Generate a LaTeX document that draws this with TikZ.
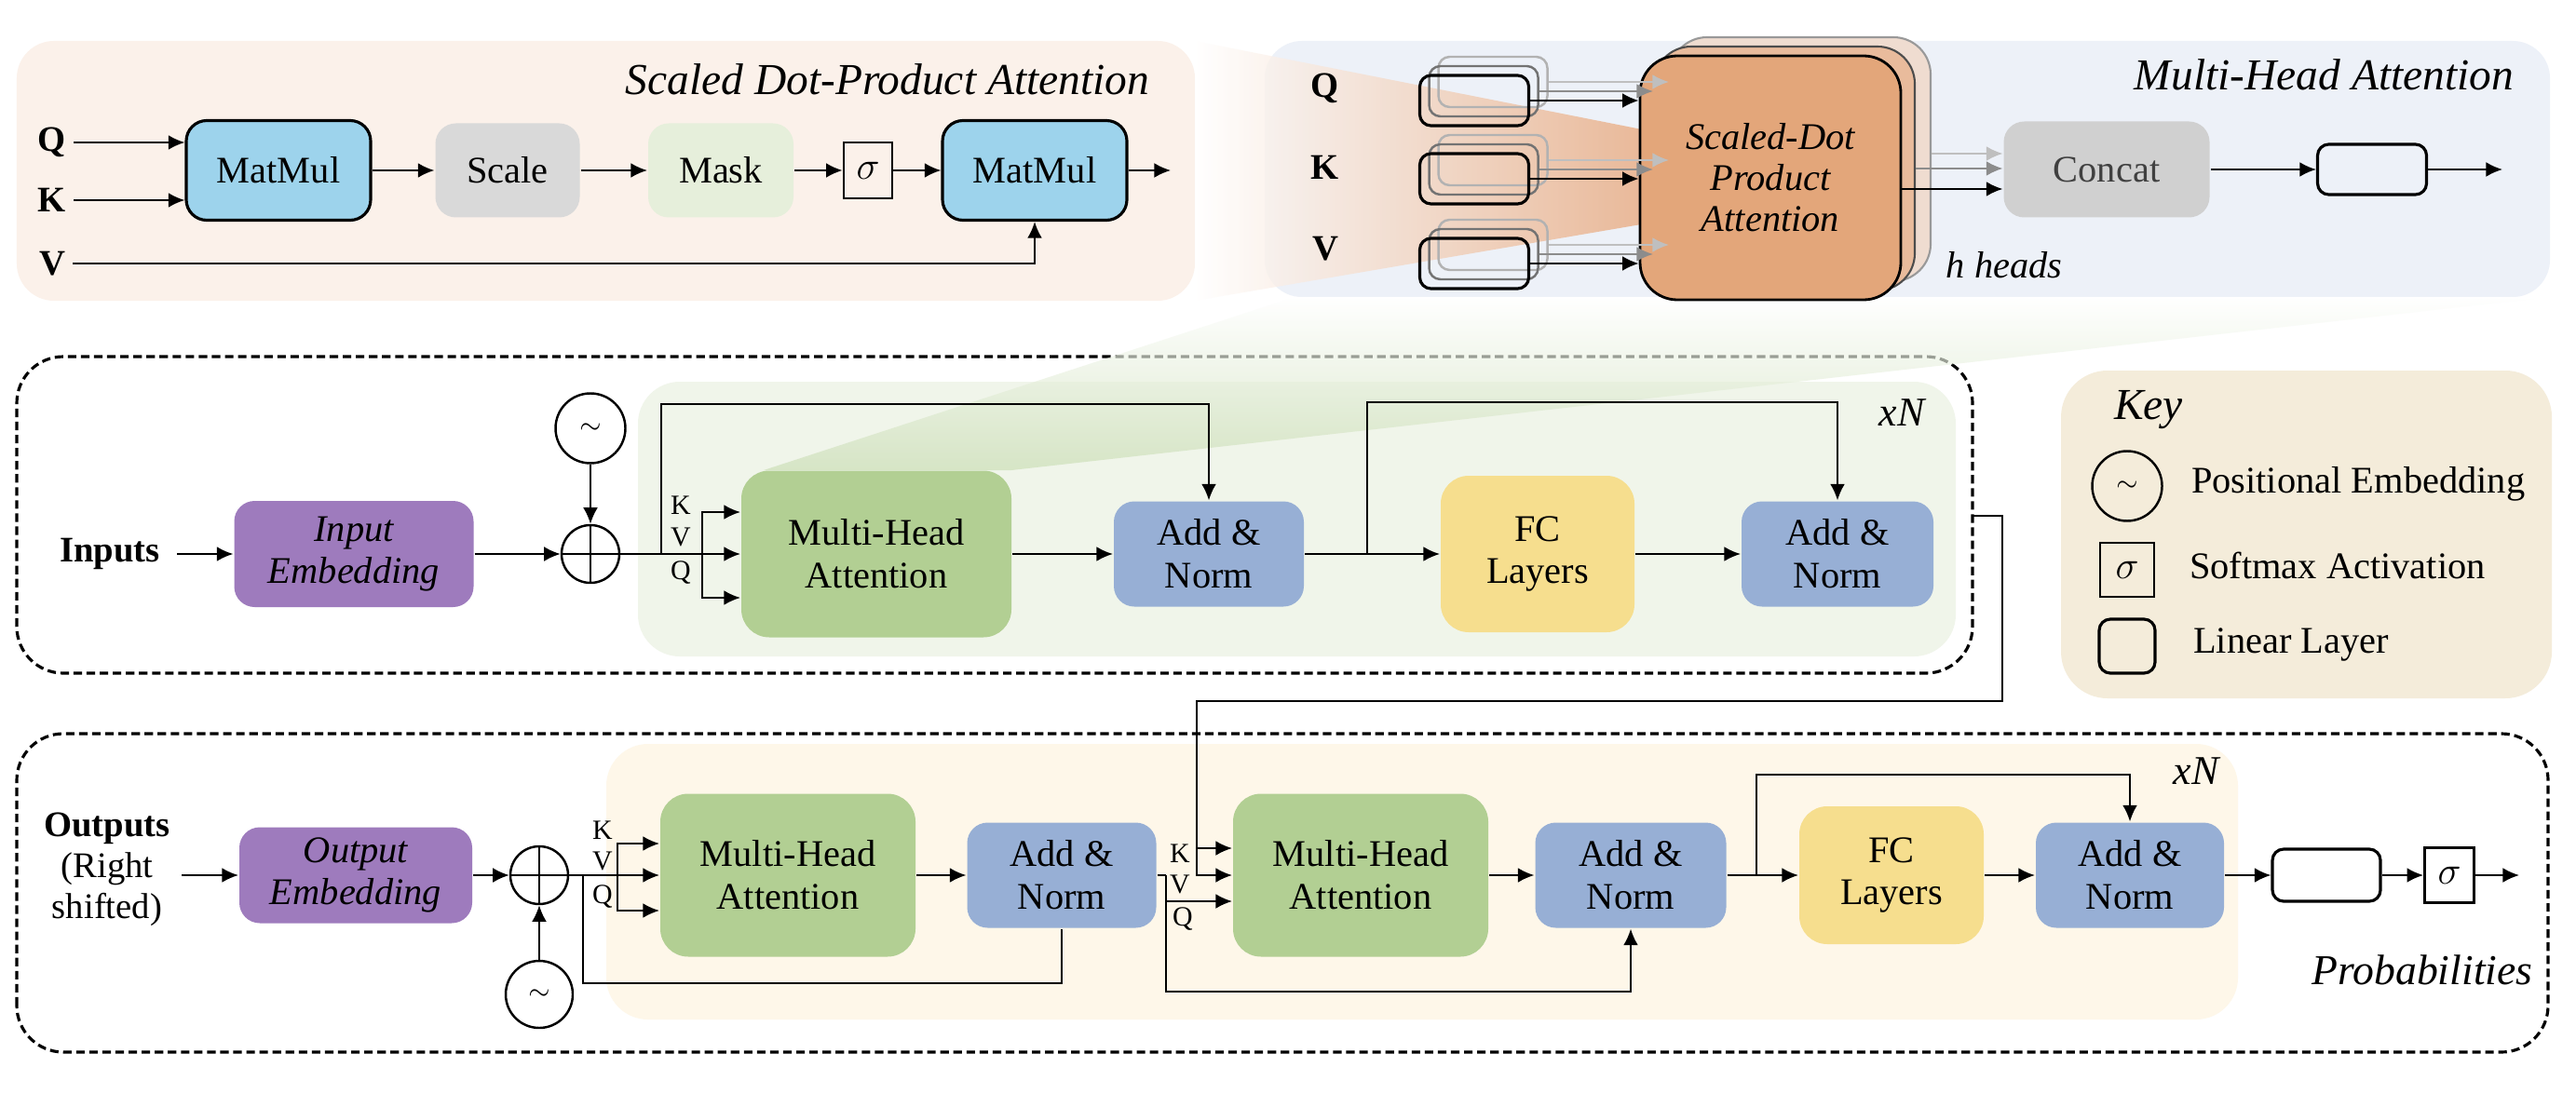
\documentclass[tikz,border=0pt]{standalone}
\usepackage{fontspec}
\setmainfont{Liberation Serif}
\usetikzlibrary{arrows.meta}

\definecolor{peachbg}{HTML}{FBF1EA}
\definecolor{bluebg}{HTML}{EDF1F8}
\definecolor{matblue}{HTML}{9DD3EC}
\definecolor{scalegray}{HTML}{D9D9D9}
\definecolor{maskgreen}{HTML}{E6EFDB}
\definecolor{sdfront}{HTML}{E3A67A}
\definecolor{sdmid}{HTML}{E9BB9C}
\definecolor{sdback}{HTML}{EFDCD0}
\definecolor{concatgray}{HTML}{D0D0D0}
\definecolor{greenbg}{HTML}{F0F5EA}
\definecolor{mhagreen}{HTML}{B2CF93}
\definecolor{anblue}{HTML}{97AFD5}
\definecolor{fcyellow}{HTML}{F6DE8E}
\definecolor{embpurple}{HTML}{9E7BBD}
\definecolor{keybg}{HTML}{F4ECDA}
\definecolor{yellowbg}{HTML}{FEF7E9}
\definecolor{wedgeorange}{HTML}{E8A679}
\definecolor{wedgegreen}{HTML}{C9DDB3}

\tikzset{
	block/.style={rounded corners=0.22cm, inner sep=0pt, align=center, font=\fontsize{11.5}{13}\selectfont},
	lin/.style={draw, rounded corners=0.12cm, line width=0.9pt, minimum width=1.17cm, minimum height=0.54cm, inner sep=0pt},
	sig/.style={draw, line width=0.8pt, minimum width=0.52cm, minimum height=0.60cm, inner sep=0pt, font=\fontsize{11.5}{13}\selectfont},
	wave/.style={draw, circle, line width=0.7pt, minimum size=0.75cm, inner sep=0pt, font=\fontsize{8}{9}\selectfont},
	addcirc/.style={draw, circle, line width=0.7pt, minimum size=0.62cm, inner sep=0pt},
	qkv/.style={font=\fontsize{11}{13}\selectfont\bfseries, inner sep=2pt},
	kvq/.style={font=\fontsize{8.5}{10}\selectfont, inner sep=0pt},
	headline/.style={font=\fontsize{13.5}{15}\selectfont\itshape, inner sep=0pt},
	itlabel/.style={font=\fontsize{12.5}{14}\selectfont\itshape, inner sep=0pt},
	keytext/.style={font=\fontsize{11.5}{13}\selectfont, anchor=west, inner sep=0pt},
	dashbox/.style={draw, dash pattern=on 2.6pt off 1.4pt, line width=0.9pt, rounded corners=0.5cm}
}

\begin{document}
\begin{tikzpicture}[>={Latex[length=5pt,width=4.5pt]}, line width=0.6pt]
			%%%%% START %%%%%
			\fill[white] (0,0) rectangle (27.66,11.74);
			\useasboundingbox (0,0) rectangle (27.66,11.74);
			
			\fill[peachbg, rounded corners=0.4cm] (0.18,8.51) rectangle (12.83,11.30);
			\fill[bluebg, rounded corners=0.4cm] (13.58,8.55) rectangle (27.38,11.30);
			\fill[greenbg, rounded corners=0.45cm] (6.85,4.69) rectangle (21.00,7.64);
			\fill[yellowbg, rounded corners=0.45cm] (6.51,0.79) rectangle (24.03,3.75);
			\fill[keybg, rounded corners=0.5cm] (22.13,4.24) rectangle (27.40,7.76);
			\draw[dashbox] (0.18,4.51) rectangle (21.18,7.91);
			\draw[dashbox] (0.18,0.44) rectangle (27.36,3.86);
			
			\shade[left color=white, right color=wedgeorange, opacity=0.75] (12.83,11.30) -- (17.68,10.34) -- (17.68,9.34) -- (12.83,8.51) -- cycle;
			\shade[top color=white, bottom color=wedgegreen, opacity=0.65] (8.20,6.69) -- (13.90,8.55) -- (27.38,8.55) -- (10.86,6.69) -- cycle;
			
			%%%%% SCALED DOT-PRODUCT %%%%%
			
			\node[headline, anchor=east] (sdpatitle) at (12.35,10.89) {Scaled Dot-Product Attention};
			\node[qkv] (q1) at (0.56,10.21) {Q};
			\node[qkv] (k1) at (0.56,9.59) {K};
			\node[qkv] (v1) at (0.56,8.91) {V};
			\node[block, draw, line width=0.9pt, fill=matblue, minimum width=1.98cm, minimum height=1.07cm] (mm1) at (2.99,9.91) {MatMul};
			\node[block, fill=scalegray, minimum width=1.55cm, minimum height=1.01cm] (scale) at (5.45,9.91) {Scale};
			\node[block, fill=maskgreen, minimum width=1.56cm, minimum height=1.01cm] (mask) at (7.74,9.91) {Mask};
			\node[sig] (sig1) at (9.32,9.91) {$\sigma$};
			\node[block, draw, line width=0.9pt, fill=matblue, minimum width=1.98cm, minimum height=1.07cm] (mm2) at (11.11,9.91) {MatMul};
			\coordinate (out1) at (12.57,9.91);
			
			\draw[->] (q1.east) -- (q1.east -| mm1.west);
			\draw[->] (k1.east) -- (k1.east -| mm1.west);
			\draw[->] (v1.east) -| (mm2.south);
			\draw[->] (mm1) -- (scale);
			\draw[->] (scale) -- (mask);
			\draw[->] (mask) -- (sig1);
			\draw[->] (sig1) -- (mm2);
			\draw[->] (mm2) -- (out1);
			
			%%%%% MULTI-HEAD %%%%%
			
			\node[headline, anchor=east] (mhatitle) at (27.00,10.94) {Multi-Head Attention};
			\node[qkv] (q2) at (14.23,10.79) {Q};
			\node[qkv] (k2) at (14.23,9.94) {K};
			\node[qkv] (v2) at (14.23,9.07) {V};
			
			\node[draw=black!40, fill=sdback, rounded corners=0.4cm, minimum width=2.80cm, minimum height=2.62cm] (sd3) at (19.33,10.03) {};
			\node[draw=black!70, fill=sdmid, rounded corners=0.4cm, minimum width=2.80cm, minimum height=2.62cm] (sd2) at (19.16,9.93) {};
			\node[draw, line width=0.8pt, fill=sdfront, rounded corners=0.4cm, minimum width=2.80cm, minimum height=2.62cm, align=center, font=\fontsize{11.5}{12.5}\selectfont\itshape] (sd1) at (19.01,9.83) {Scaled-Dot\\Product\\Attention};
			
			\foreach \n/\y in {q/10.66, k/9.82, v/8.91} {
				\node[lin, draw=black!30, line width=0.7pt] (l\n3) at (16.03,\y+0.2) {};
				\node[lin, draw=black!55, line width=0.7pt] (l\n2) at (15.93,\y+0.1) {};
				\node[lin] (l\n1) at (15.83,\y) {};
				\draw[->, black!25] (l\n3.east) -- (l\n3.east -| sd3.west);
				\draw[->, black!45] (l\n2.east) -- (l\n2.east -| sd2.west);
				\draw[->] (l\n1.east) -- (l\n1.east -| sd1.west);
			}
			
			\node[itlabel, font=\fontsize{11.5}{13}\selectfont\itshape] (heads) at (21.52,8.89) {h heads};
			\node[block, fill=concatgray, text=black!75, minimum width=2.21cm, minimum height=1.03cm] (cc) at (22.62,9.92) {Concat};
			\node[lin] (lo) at (25.47,9.92) {};
			\coordinate (out2) at (26.87,9.92);
			
			\coordinate (c1) at ([yshift=-0.12cm]sd1.east);
			\coordinate (c3) at ([yshift=0.06cm]sd3.east);
			\draw[->, black!25] (c3) -- (c3 -| cc.west);
			\draw[->, black!45] (sd2.east) -- (sd2.east -| cc.west);
			\draw[->] (c1) -- (c1 -| cc.west);
			\draw[->] (cc) -- (lo);
			\draw[->] (lo) -- (out2);
			
			%%%%% ENCODER %%%%%
			
			\node[qkv, inner sep=5pt] (inp) at (1.18,5.79) {Inputs};
			\node[block, fill=embpurple, font=\fontsize{11.5}{13}\selectfont\itshape, minimum width=2.57cm, minimum height=1.14cm] (inemb) at (3.80,5.79) {Input\\Embedding};
			\node[addcirc] (add1) at (6.34,5.79) {};
			\draw (add1.north) -- (add1.south) (add1.west) -- (add1.east);
			\node[wave] (pe1) at (6.34,7.14) {$\sim$};
			\node[block, fill=mhagreen, rounded corners=0.3cm, minimum width=2.90cm, minimum height=1.79cm] (mha1) at (9.41,5.79) {Multi-Head\\Attention};
			\node[block, fill=anblue, minimum width=2.04cm, minimum height=1.13cm] (an1) at (12.98,5.79) {Add \&\\Norm};
			\node[block, fill=fcyellow, rounded corners=0.3cm, minimum width=2.08cm, minimum height=1.68cm] (fc1) at (16.51,5.79) {FC\\Layers};
			\node[block, fill=anblue, minimum width=2.06cm, minimum height=1.13cm] (an2) at (19.73,5.79) {Add \&\\Norm};
			\node[itlabel] (xn1) at (20.42,7.31) {xN};
			
			\coordinate (split1) at (7.54,5.79);
			\coordinate (res1) at (7.10,5.79);
			\coordinate (res2) at (14.68,5.79);
			\draw[->] (inp) -- (inemb);
			\draw[->] (inemb) -- (add1);
			\draw[->] (pe1) -- (add1);
			\draw (add1) -- (split1);
			\draw[->] (split1) |- ([yshift=0.45cm]mha1.west);
			\draw[->] (split1) -- (mha1.west);
			\draw[->] (split1) |- ([yshift=-0.47cm]mha1.west);
			\node[kvq] (ke) at (7.31,6.31) {K};
			\node[kvq] (ve) at (7.31,5.97) {V};
			\node[kvq] (qe) at (7.31,5.59) {Q};
			\draw[->] (res1) -- ++(0,1.61) -| (an1.north);
			\draw[->] (mha1) -- (an1);
			\draw[->] (an1) -- (fc1);
			\draw[->] (res2) -- ++(0,1.63) -| (an2.north);
			\draw[->] (fc1) -- (an2);
			
			%%%%% KEY %%%%%
			
			\node[font=\fontsize{13.5}{15}\selectfont\itshape, inner sep=0pt] (keyt) at (23.07,7.34) {Key};
			\node[wave] (pekey) at (22.84,6.52) {$\sim$};
			\node[sig, minimum width=0.58cm, minimum height=0.58cm] (sigkey) at (22.84,5.62) {$\sigma$};
			\node[lin, minimum width=0.60cm, minimum height=0.58cm] (linkey) at (22.84,4.80) {};
			\node[keytext] (pekeyt) at (23.52,6.54) {Positional Embedding};
			\node[keytext] (sigkeyt) at (23.50,5.67) {Softmax Activation};
			\node[keytext] (linkeyt) at (23.54,4.82) {Linear Layer};
			
			%%%%% DECODER %%%%%
			
			\node[align=center, font=\fontsize{11}{12.5}\selectfont] (outp) at (1.15,2.40) {\textbf{Outputs}\\(Right\\shifted)};
			\node[block, fill=embpurple, font=\fontsize{11.5}{13}\selectfont\itshape, minimum width=2.50cm, minimum height=1.03cm] (outemb) at (3.82,2.34) {Output\\Embedding};
			\node[addcirc] (add2) at (5.79,2.34) {};
			\draw (add2.north) -- (add2.south) (add2.west) -- (add2.east);
			\node[wave, minimum size=0.72cm] (pe2) at (5.79,1.06) {$\sim$};
			\node[block, fill=mhagreen, rounded corners=0.3cm, minimum width=2.74cm, minimum height=1.75cm] (mha2) at (8.46,2.34) {Multi-Head\\Attention};
			\node[block, fill=anblue, minimum width=2.03cm, minimum height=1.13cm] (an3) at (11.40,2.34) {Add \&\\Norm};
			\node[block, fill=mhagreen, rounded corners=0.3cm, minimum width=2.74cm, minimum height=1.75cm] (mha3) at (14.61,2.34) {Multi-Head\\Attention};
			\node[block, fill=anblue, minimum width=2.05cm, minimum height=1.13cm] (an4) at (17.51,2.34) {Add \&\\Norm};
			\node[block, fill=fcyellow, rounded corners=0.3cm, minimum width=1.98cm, minimum height=1.48cm] (fc2) at (20.31,2.34) {FC\\Layers};
			\node[block, fill=anblue, minimum width=2.02cm, minimum height=1.13cm] (an5) at (22.87,2.34) {Add \&\\Norm};
			\node[lin, minimum width=1.16cm, minimum height=0.56cm] (lin3) at (24.98,2.34) {};
			\node[sig, minimum width=0.53cm, minimum height=0.59cm] (sig3) at (26.30,2.34) {$\sigma$};
			\coordinate (out3) at (27.05,2.34);
			\node[itlabel] (xn2) at (23.58,3.46) {xN};
			\node[itlabel, font=\fontsize{13}{15}\selectfont\itshape] (prob) at (26.01,1.32) {Probabilities};
			
			\coordinate (split2) at (6.63,2.34);
			\coordinate (res3) at (6.26,2.34);
			\coordinate (split3) at (12.52,2.34);
			\coordinate (res4) at (18.86,2.34);
			\coordinate (encout) at (21.18,6.20);
			\coordinate (kvtop) at (12.85,4.21);
			\coordinate (k3in) at ([yshift=0.29cm]mha3.west);
			
			\draw[->] (outp.east |- outemb.west) -- (outemb.west);
			\draw[->] (outemb) -- (add2);
			\draw[->] (pe2) -- (add2);
			\draw (add2) -- (split2);
			\draw[->] (split2) |- ([yshift=0.34cm]mha2.west);
			\draw[->] (split2) -- (mha2.west);
			\draw[->] (split2) |- ([yshift=-0.38cm]mha2.west);
			\node[kvq] (kd1) at (6.47,2.82) {K};
			\node[kvq] (vd1) at (6.47,2.49) {V};
			\node[kvq] (qd1) at (6.47,2.11) {Q};
			\draw (res3) -- ++(0,-1.16) -| (an3.south);
			\draw[->] (mha2) -- (an3);
			\draw (an3) -- (split3);
			\draw[->] (split3) |- ([yshift=-0.28cm]mha3.west);
			\draw[->] (split3) -- ++(0,-1.25) -| (an4.south);
			\draw[->] (encout) -- ++(0.32,0) |- (kvtop) -- (kvtop |- mha3.west) -- (mha3.west);
			\draw[->] (k3in -| kvtop) -- (k3in);
			\node[kvq] (kd2) at (12.67,2.57) {K};
			\node[kvq] (vd2) at (12.67,2.24) {V};
			\node[kvq] (qd2) at (12.70,1.87) {Q};
			\draw[->] (mha3) -- (an4);
			\draw[->] (an4) -- (fc2);
			\draw[->] (res4) -- ++(0,1.08) -| (an5.north);
			\draw[->] (fc2) -- (an5);
			\draw[->] (an5) -- (lin3);
			\draw[->] (lin3) -- (sig3);
			\draw[->] (sig3) -- (out3);
			
			%%%%% END %%%%%
\end{tikzpicture}
\end{document}
